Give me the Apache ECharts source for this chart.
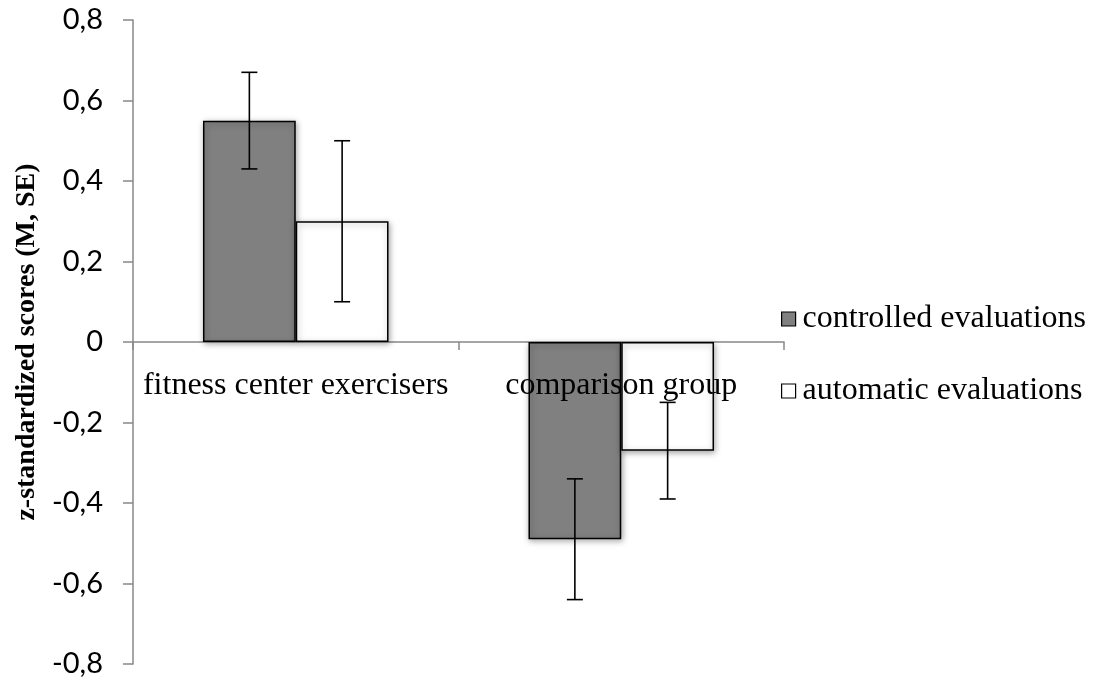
<!DOCTYPE html>
<html>
<head>
<meta charset="utf-8">
<script src="https://cdn.jsdelivr.net/npm/echarts@6/dist/echarts.min.js"></script>
<style>
  html, body { margin: 0; padding: 0; background: #fff; }
  #chart { width: 1099px; height: 684px; }
</style>
</head>
<body>
<div id="chart"></div>
<script>
// Group labels and series values (means and standard errors)
const categories = ['fitness center exercisers', 'comparison group'];
const seriesNames = ['controlled evaluations', 'automatic evaluations'];
const controlledMean = [0.55, -0.49];
const controlledSE = [0.12, 0.15];
const automaticMean = [0.30, -0.27];
const automaticSE = [0.20, 0.12];

const CATEGORY_GAP = 0.43; // fraction of band left empty around the bar pair

function errorData(means, ses) {
  return means.map((m, i) => [i, m - ses[i], m + ses[i]]);
}

// Draws a whisker with caps, shifted to sit on the centre of its bar
function whisker(sideIndex) {
  return function (params, api) {
    const band = api.size([1, 0])[0];
    const barW = band * (1 - CATEGORY_GAP) / 2;
    const shift = (sideIndex === 0 ? -0.5 : 0.5) * barW;
    const lo = api.coord([api.value(0), api.value(1)]);
    const hi = api.coord([api.value(0), api.value(2)]);
    const x = lo[0] + shift;
    const cap = 8;
    const style = { stroke: '#000', lineWidth: 1.6 };
    return {
      type: 'group',
      children: [
        { type: 'line', shape: { x1: x, y1: lo[1], x2: x, y2: hi[1] }, style: style },
        { type: 'line', shape: { x1: x - cap, y1: lo[1], x2: x + cap, y2: lo[1] }, style: style },
        { type: 'line', shape: { x1: x - cap, y1: hi[1], x2: x + cap, y2: hi[1] }, style: style }
      ]
    };
  };
}

// Category names written just under the zero line, above the bars
function categoryLabel(params, api) {
  const p = api.coord([api.value(0), 0]);
  return {
    type: 'text',
    x: p[0],
    y: p[1] + 44,
    style: {
      text: categories[api.value(0)],
      fontFamily: 'Liberation Serif',
      fontSize: 32,
      fill: '#000',
      align: 'center',
      verticalAlign: 'middle'
    }
  };
}

const barShadow = {
  borderColor: '#000',
  borderWidth: 1.5,
  shadowBlur: 6,
  shadowColor: 'rgba(0,0,0,0.35)',
  shadowOffsetX: 1,
  shadowOffsetY: 2
};

const chart = echarts.init(document.getElementById('chart'));
chart.setOption({
  animation: false,
  backgroundColor: '#fff',
  grid: { left: 133, right: 315, top: 20, bottom: 20, containLabel: false, outerBoundsMode: 'none' },
  legend: {
    orient: 'vertical',
    left: 776,
    top: 298,
    itemGap: 40,
    itemWidth: 14,
    itemHeight: 14,
    icon: 'rect',
    data: seriesNames,
    itemStyle: { borderColor: '#000', borderWidth: 1.2, shadowBlur: 0, shadowOffsetX: 0, shadowOffsetY: 0 },
    textStyle: { fontFamily: 'Liberation Serif', fontSize: 32, lineHeight: 32, color: '#000', padding: [0, 0, 0, 2] }
  },
  xAxis: {
    type: 'category',
    data: categories,
    axisLine: { onZero: true, lineStyle: { color: '#888', width: 1.5 } },
    axisTick: { show: true, length: 8, lineStyle: { color: '#888', width: 1.5 } },
    axisLabel: { show: false },
    splitLine: { show: false }
  },
  yAxis: {
    type: 'value',
    min: -0.8,
    max: 0.8,
    interval: 0.2,
    name: 'z-standardized scores (M, SE)',
    nameLocation: 'middle',
    nameGap: 91,
    nameRotate: 90,
    nameTextStyle: { fontFamily: 'Liberation Serif', fontWeight: 'bold', fontSize: 28, color: '#000' },
    axisLine: { show: true, lineStyle: { color: '#888', width: 1.5 } },
    axisTick: { show: true, length: 10, lineStyle: { color: '#888', width: 1.5 } },
    axisLabel: {
      fontFamily: 'Lato',
      fontSize: 29,
      color: '#000',
      margin: 30,
      formatter: function (v) {
        const r = Math.round(v * 10) / 10;
        return r === 0 ? '0' : r.toFixed(1).replace('.', ',');
      }
    },
    splitLine: { show: false }
  },
  series: [
    {
      name: seriesNames[0],
      type: 'bar',
      data: controlledMean,
      barGap: '0%',
      barCategoryGap: (CATEGORY_GAP * 100) + '%',
      itemStyle: Object.assign({ color: '#808080' }, barShadow)
    },
    {
      name: seriesNames[1],
      type: 'bar',
      data: automaticMean,
      barGap: '0%',
      barCategoryGap: (CATEGORY_GAP * 100) + '%',
      itemStyle: Object.assign({ color: '#ffffff' }, barShadow)
    },
    {
      type: 'custom',
      renderItem: whisker(0),
      data: errorData(controlledMean, controlledSE),
      encode: { x: 0, y: [1, 2] },
      z: 5,
      silent: true
    },
    {
      type: 'custom',
      renderItem: whisker(1),
      data: errorData(automaticMean, automaticSE),
      encode: { x: 0, y: [1, 2] },
      z: 5,
      silent: true
    },
    {
      type: 'custom',
      renderItem: categoryLabel,
      data: categories.map((c, i) => [i]),
      encode: { x: 0 },
      z: 10,
      silent: true
    }
  ]
});
</script>
</body>
</html>
